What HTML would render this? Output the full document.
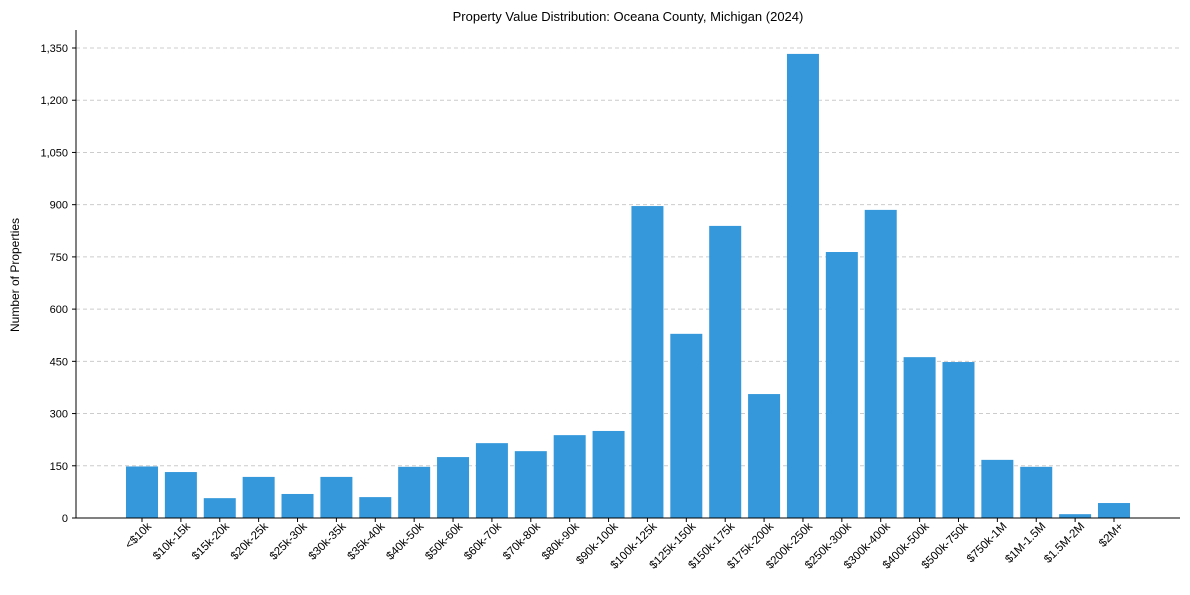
<!DOCTYPE html>
<html><head><meta charset="utf-8"><style>
body{margin:0;background:#fff;font-family:"Liberation Sans",Arial,sans-serif}
</style></head><body>
<svg id="chart" width="1190" height="590" font-family="Liberation Sans, Arial, sans-serif">
<text x="628" y="21" text-anchor="middle" font-size="13">Property Value Distribution: Oceana County, Michigan (2024)</text>
<text transform="translate(19,275) rotate(-90)" text-anchor="middle" font-size="12">Number of Properties</text>
<g id="grid"></g><g id="bars"></g><g id="xt"></g><g id="yt"></g>
<line x1="76" y1="30" x2="76" y2="518" stroke="#000"/>
<line x1="76" y1="518" x2="1180" y2="518" stroke="#000"/>
</svg>
<script>
const categories=["<$10k","$10k-15k","$15k-20k","$20k-25k","$25k-30k","$30k-35k","$35k-40k","$40k-50k","$50k-60k","$60k-70k","$70k-80k","$80k-90k","$90k-100k","$100k-125k","$125k-150k","$150k-175k","$175k-200k","$200k-250k","$250k-300k","$300k-400k","$400k-500k","$500k-750k","$750k-1M","$1M-1.5M","$1.5M-2M","$2M+"];
const values=[148,132,57,118,69,118,60,147,175,215,192,238,250,896,529,839,356,1333,764,885,462,448,167,147,11,43];
const yTicks=[0,150,300,450,600,750,900,1050,1200,1350];
const NS="http://www.w3.org/2000/svg";
const y0=518,yTop=48,vMax=1350;
function yScale(v){return y0-(v/vMax)*(y0-yTop);}
function xScale(i){return 142+i*38.88;}
function mk(t,a,p){const e=document.createElementNS(NS,t);for(const k in a)e.setAttribute(k,a[k]);document.getElementById(p).appendChild(e);return e;}
yTicks.forEach(t=>{
 const y=yScale(t);
 if(t>0){const g=mk("line",{x1:76,x2:1180,y1:y,y2:y,stroke:"#ccc","stroke-dasharray":"4,3"},"grid");
 
 }
 mk("line",{x1:72,x2:76,y1:y,y2:y,stroke:"#000"},"yt");
 const l=mk("text",{x:68,y:y+4,"text-anchor":"end","font-size":"11"},"yt");
 l.textContent=t.toLocaleString("en-US");
 
 
});
categories.forEach((c,i)=>{
 const x=xScale(i),y=yScale(values[i]);
 const r=mk("rect",{x:x-16,y:y,width:32,height:y0-y,fill:"#3498db"},"bars");
 
 
 mk("line",{x1:x,x2:x,y1:518,y2:522,stroke:"#000"},"xt");
 const t=mk("text",{transform:`translate(${x+10},${527}) rotate(-45)`,"text-anchor":"end","font-size":"11.5"},"xt");
 t.textContent=c;
 
 
});
</script>
</body></html>
